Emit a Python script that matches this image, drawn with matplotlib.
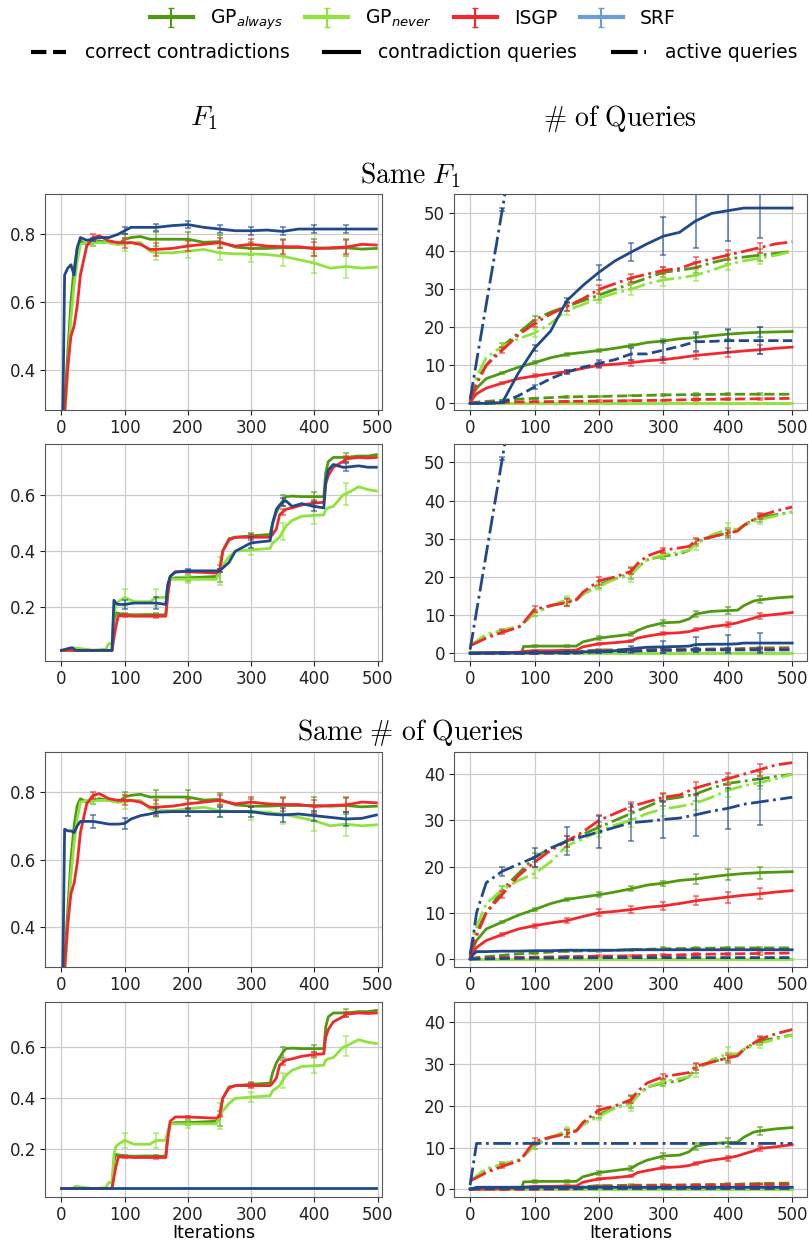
import matplotlib
matplotlib.use("Agg")
import matplotlib.pyplot as plt
from matplotlib.lines import Line2D
import numpy as np

# colours
c_gpa = "#4f9a10"
c_gpn = "#8ee43c"
c_isgp = "#f2282c"
c_srf = "#20498c"
c_srf_leg = "#6b9ed6"

# x positions of the error bars
err_x = [50, 100, 150, 200, 250, 300, 350, 400, 450]

# ---------- dataset A (rows 1 and 3), F1 ----------
xf_a = [0, 3, 5, 10, 15, 20, 25, 30, 40, 50, 60, 75, 90, 100, 110, 125, 140, 150,
        175, 200, 225, 250, 275, 300, 325, 350, 375, 400, 425, 450, 475, 498]
f1a_gpa = [0.05, 0.15, 0.30, 0.45, 0.60, 0.70, 0.76, 0.78, 0.77, 0.775, 0.78, 0.775,
           0.77, 0.785, 0.79, 0.793, 0.785, 0.785, 0.785, 0.785, 0.776, 0.778, 0.762,
           0.758, 0.758, 0.76, 0.76, 0.76, 0.758, 0.76, 0.756, 0.758]
f1a_gpn = [0.05, 0.12, 0.25, 0.40, 0.55, 0.65, 0.72, 0.77, 0.775, 0.775, 0.775, 0.775,
           0.77, 0.77, 0.775, 0.775, 0.75, 0.745, 0.745, 0.75, 0.755, 0.745, 0.742,
           0.742, 0.74, 0.735, 0.725, 0.715, 0.70, 0.705, 0.70, 0.703]
f1a_isgp = [0.05, 0.10, 0.28, 0.41, 0.50, 0.53, 0.59, 0.68, 0.765, 0.79, 0.795, 0.78,
            0.775, 0.775, 0.775, 0.77, 0.755, 0.755, 0.758, 0.765, 0.77, 0.775, 0.765,
            0.77, 0.765, 0.763, 0.763, 0.757, 0.76, 0.762, 0.77, 0.768]
f1_srf1 = [0.05, 0.38, 0.68, 0.70, 0.71, 0.68, 0.76, 0.79, 0.782, 0.785, 0.79, 0.79,
           0.80, 0.81, 0.82, 0.82, 0.82, 0.82, 0.825, 0.828, 0.82, 0.815, 0.81,
           0.81, 0.812, 0.808, 0.815, 0.815, 0.815, 0.815, 0.815, 0.815]
f1_srf3 = [0.05, 0.38, 0.69, 0.685, 0.685, 0.68, 0.70, 0.713, 0.713, 0.713, 0.71, 0.705,
           0.705, 0.707, 0.72, 0.73, 0.735, 0.74, 0.742, 0.742, 0.742, 0.742, 0.742,
           0.742, 0.735, 0.732, 0.735, 0.73, 0.725, 0.72, 0.722, 0.732]
e_f1a_gpa = [0.01, 0.015, 0.02, 0.02, 0.02, 0.02, 0.025, 0.025, 0.025]
e_f1a_gpn = [0.01, 0.02, 0.02, 0.02, 0.02, 0.025, 0.03, 0.03, 0.035]
e_f1a_isgp = [0.01, 0.015, 0.02, 0.015, 0.015, 0.015, 0.02, 0.02, 0.02]
e_f1_srf1 = [0.005, 0.01, 0.01, 0.01, 0.012, 0.012, 0.012, 0.012, 0.012]
e_f1_srf3 = [0.02, 0.017, 0.012, 0.012, 0.015, 0.015, 0.02, 0.015, 0.02]

# ---------- dataset B (rows 2 and 4), F1 ----------
xf_b = [0, 15, 18, 22, 50, 70, 75, 80, 83, 86, 90, 100, 115, 140, 150, 165, 168, 172,
        180, 200, 245, 250, 255, 265, 275, 300, 330, 334, 340, 345, 350, 355, 365, 380,
        400, 415, 418, 422, 430, 445, 450, 470, 485, 498]
f1b_gpa = [0.046, 0.046, 0.046, 0.046, 0.046, 0.046, 0.046, 0.046, 0.15, 0.18, 0.178,
           0.174, 0.173, 0.174, 0.173, 0.173, 0.25, 0.30, 0.305, 0.305, 0.31, 0.32, 0.40,
           0.445, 0.45, 0.455, 0.46, 0.50, 0.54, 0.56, 0.58, 0.595, 0.597, 0.595, 0.595,
           0.595, 0.68, 0.72, 0.735, 0.735, 0.735, 0.74, 0.74, 0.745]
f1b_gpn = [0.046, 0.046, 0.046, 0.055, 0.046, 0.05, 0.07, 0.07, 0.18, 0.21, 0.22,
           0.235, 0.22, 0.22, 0.235, 0.235, 0.27, 0.30, 0.30, 0.30, 0.30, 0.33, 0.35,
           0.38, 0.40, 0.405, 0.41, 0.43, 0.44, 0.45, 0.47, 0.49, 0.51, 0.525, 0.528,
           0.53, 0.55, 0.555, 0.56, 0.60, 0.605, 0.63, 0.62, 0.615]
f1b_isgp = [0.046, 0.046, 0.046, 0.046, 0.046, 0.046, 0.046, 0.046, 0.09, 0.13, 0.17,
            0.17, 0.168, 0.168, 0.168, 0.168, 0.24, 0.31, 0.327, 0.327, 0.322, 0.33, 0.40,
            0.44, 0.45, 0.45, 0.45, 0.46, 0.48, 0.53, 0.54, 0.55, 0.555, 0.565, 0.572,
            0.575, 0.64, 0.67, 0.70, 0.72, 0.73, 0.735, 0.733, 0.735]
f1_srf2 = [0.046, 0.055, 0.055, 0.046, 0.046, 0.046, 0.046, 0.046, 0.225, 0.215, 0.21,
           0.21, 0.215, 0.215, 0.215, 0.21, 0.28, 0.31, 0.325, 0.33, 0.33, 0.33, 0.34,
           0.36, 0.40, 0.43, 0.437, 0.50, 0.55, 0.565, 0.575, 0.58, 0.56, 0.57, 0.56,
           0.555, 0.65, 0.69, 0.71, 0.70, 0.70, 0.705, 0.70, 0.70]
x_srf4_f1 = [0, 498]
f1_srf4 = [0.047, 0.047]
e_f1b_gpa = [0.002, 0.005, 0.005, 0.01, 0.03, 0.01, 0.02, 0.015, 0.015]
e_f1b_gpn = [0.002, 0.03, 0.03, 0.015, 0.05, 0.02, 0.03, 0.03, 0.04]
e_f1b_isgp = [0.002, 0.005, 0.005, 0.005, 0.005, 0.01, 0.01, 0.01, 0.01]
e_f1_srf2 = [0.002, 0.015, 0.02, 0.005, 0.005, 0.02, 0.015, 0.015, 0.015]

# ---------- dataset A, queries ----------
xq_a = [0, 5, 10, 25, 50, 75, 100, 125, 150, 175, 200, 225, 250, 275, 300, 325, 350,
        375, 400, 425, 450, 475, 500]
act_a_gpa = [0.5, 4, 6, 10, 15, 18.5, 22, 24, 25.5, 27, 28.5, 30, 31.5, 33, 34.5, 35,
             35.7, 37, 38, 38.5, 39, 39.5, 40]
act_a_gpn = [0.5, 5, 7, 12, 15, 17, 18.5, 21, 24.5, 26, 27.7, 29, 30, 31.5, 32.5, 33,
             33.7, 35, 36.5, 37.5, 38.2, 39, 40]
act_a_isgp = [0.5, 3, 5, 10, 14, 18, 21, 23.5, 25.5, 27.5, 30, 31.5, 33, 34, 35, 35.5,
              37, 38, 39, 40, 41, 42, 42.5]
con_a_gpa = [0, 2.5, 4, 6.5, 8, 9.5, 10.7, 12, 12.9, 13.4, 13.9, 14.5, 15.2, 16, 16.4,
             17, 17.3, 17.8, 18.2, 18.5, 18.7, 18.8, 18.9]
con_a_isgp = [0, 1.5, 2.5, 4, 5.3, 6.5, 7.2, 7.8, 8.3, 9.2, 10, 10.3, 10.7, 11.2, 11.5,
              12, 12.6, 13, 13.4, 13.8, 14.1, 14.5, 14.8]
cor_a_gpa = [0, 0.2, 0.3, 0.5, 0.8, 1.1, 1.3, 1.5, 1.7, 1.75, 1.8, 1.9, 2.0, 2.1, 2.2,
             2.25, 2.3, 2.35, 2.4, 2.4, 2.4, 2.4, 2.4]
cor_a_isgp = [0, 0.05, 0.1, 0.2, 0.3, 0.35, 0.4, 0.45, 0.5, 0.55, 0.6, 0.65, 0.7, 0.75,
              0.8, 0.9, 1.0, 1.05, 1.1, 1.15, 1.2, 1.25, 1.3]
e_act_a_gpa = [0.8, 1.0, 1.2, 1.2, 1.3, 1.3, 1.4, 1.4, 1.5]
e_act_a_gpn = [0.8, 1.0, 1.2, 1.3, 1.4, 1.5, 1.5, 1.5, 1.5]
e_act_a_isgp = [0.8, 1.0, 1.2, 1.2, 1.0, 1.0, 1.4, 1.3, 1.3]
e_con_a_gpa = [0.3, 0.4, 0.4, 0.5, 0.5, 0.5, 1.0, 1.2, 1.3]
e_con_a_isgp = [0.3, 0.4, 0.6, 0.8, 0.8, 0.8, 1.0, 1.2, 1.2]
e_cor_a_gpa = [0.1, 0.2, 0.2, 0.2, 0.2, 0.3, 0.3, 0.3, 0.3]
e_cor_a_isgp = [0.1, 0.1, 0.1, 0.2, 0.2, 0.2, 0.3, 0.3, 0.3]

# GP_never never asks contradiction queries
xq_zero = [0, 500]
q_gpn_zero = [0, 0]

# SRF, same F1 (row 1) and same # of queries (row 3)
x_srf_lin = [0, 50, 100]
act_srf_lin = [1, 51, 101]
e_act_srf_lin = [0.3]
con_srf1 = [0, 0, 0, 0, 0.2, 8, 14.5, 19, 27, 31, 34.5, 37.5, 39.8, 42, 44, 45, 48, 50,
            50.7, 51.4, 51.4, 51.4, 51.4]
cor_srf1 = [0, 0, 0, 0, 0.2, 2, 4.3, 6.5, 8.2, 9.5, 10.5, 11.5, 13, 13, 14, 15, 16.2,
            16.3, 16.5, 16.5, 16.5, 16.5, 16.5]
e_con_srf1 = [0.2, 0.8, 0.6, 2.0, 2.4, 5.0, 7.0, 8.0, 8.0]
e_cor_srf1 = [0.1, 0.6, 0.6, 1.0, 1.5, 2.5, 2.5, 3.0, 3.5]
act_srf3 = [1, 5, 10, 16.5, 19, 20.5, 22, 24, 25.5, 26.5, 27.5, 28.5, 29.5, 29.8, 30.2,
            30.5, 31.2, 32, 32.6, 33.5, 34, 34.5, 35]
con_srf3 = [0, 1, 1.6, 1.6, 1.7, 1.7, 1.8, 1.8, 1.9, 1.9, 1.9, 1.9, 2.0, 2.0, 2.0, 2.0,
            2.0, 2.0, 2.0, 2.0, 2.0, 2.0, 2.0]
cor_srf3 = [0, 0, 0, 0.05, 0.1, 0.15, 0.2, 0.2, 0.25, 0.25, 0.3, 0.3, 0.3, 0.3, 0.3,
            0.3, 0.3, 0.3, 0.3, 0.3, 0.3, 0.3, 0.3]
e_act_srf3 = [1.0, 2.0, 3.0, 3.5, 4.0, 4.0, 4.5, 4.5, 5.0]

# ---------- dataset B, queries ----------
xq_b = [0, 25, 50, 75, 80, 83, 90, 100, 125, 150, 165, 175, 200, 225, 250, 260, 275,
        300, 325, 340, 350, 375, 400, 415, 425, 440, 450, 475, 500]
act_b_gpa = [2, 4.5, 6, 7, 7.4, 8, 9, 10.5, 12.5, 13.5, 14, 15.5, 18, 19.5, 21, 22.5,
             24.5, 25.5, 26, 27, 29, 30.5, 31.5, 32.2, 33.5, 35, 35.5, 36.3, 37]
act_b_gpn = [2, 5, 6, 7, 7.4, 8, 9, 10.5, 12.5, 14, 14.2, 15.5, 17.5, 19.5, 20.5, 22.5,
             24.5, 25.8, 26.5, 27, 28.5, 31, 32.5, 32.5, 33.5, 34.5, 35, 36, 37]
act_b_isgp = [2, 4, 5.5, 6.8, 7.3, 8, 9.5, 11.5, 12.5, 13.3, 14, 16, 19, 20, 21.5, 23.5,
              25.5, 27, 27.6, 28, 29.5, 30.5, 31.5, 32, 33.5, 35, 36, 37.3, 38.3]
con_b_gpa = [0.2, 0.2, 0.2, 0.2, 0.2, 1.8, 1.8, 1.9, 1.9, 1.9, 1.9, 3, 4, 4.5, 5, 6, 7,
             8, 8.2, 9, 10.3, 11, 11.2, 11.3, 12.5, 13.7, 14, 14.5, 14.8]
con_b_isgp = [0, 0.1, 0.2, 0.3, 0.4, 0.5, 0.6, 0.7, 0.7, 0.8, 0.8, 1.7, 2.5, 2.8, 3.2,
              4, 4.5, 5.2, 5.4, 5.7, 6.2, 7, 7.5, 8, 8.5, 9.2, 9.8, 10.2, 10.7]
cor_b_gpa = [0, 0, 0, 0, 0, 0, 0, 0, 0.05, 0.1, 0.1, 0.6, 0.9, 0.9, 1.0, 1.0, 1.0, 1.0,
             1.05, 1.1, 1.1, 1.15, 1.2, 1.2, 1.3, 1.35, 1.4, 1.45, 1.5]
cor_b_isgp = [0, 0, 0, 0, 0, 0, 0, 0, 0.05, 0.1, 0.1, 0.5, 0.7, 0.7, 0.8, 0.8, 0.85,
              0.9, 0.9, 0.95, 0.95, 1.0, 1.0, 1.05, 1.1, 1.1, 1.15, 1.15, 1.2]
e_act_b_gpa = [0.5, 0.8, 1.0, 1.0, 1.5, 0.8, 1.0, 1.2, 1.0]
e_act_b_gpn = [0.5, 0.8, 1.0, 1.0, 1.8, 0.8, 1.5, 1.5, 1.2]
e_act_b_isgp = [0.5, 0.8, 0.8, 1.0, 0.8, 0.6, 0.8, 0.8, 0.8]
e_con_b_gpa = [0.2, 0.3, 0.3, 0.5, 0.5, 0.8, 0.8, 1.0, 0.9]
e_con_b_isgp = [0.1, 0.2, 0.2, 0.3, 0.3, 0.3, 0.4, 0.6, 0.7]
e_cor_b_gpa = [0.1, 0.1, 0.1, 0.2, 0.2, 0.2, 0.2, 0.2, 0.2]
e_cor_b_isgp = [0.1, 0.1, 0.1, 0.2, 0.2, 0.2, 0.2, 0.2, 0.2]

con_srf2 = [0, 0.1, 0.1, 0.1, 0.1, 0.1, 0.15, 0.2, 0.2, 0.25, 0.3, 0.4, 0.5, 0.7, 1.2,
            1.4, 1.6, 1.7, 1.8, 1.9, 2.3, 2.4, 2.4, 2.5, 2.7, 2.7, 2.7, 2.7, 2.7]
cor_srf2 = [0, 0.05, 0.05, 0.05, 0.05, 0.05, 0.05, 0.1, 0.1, 0.1, 0.1, 0.2, 0.4, 0.45,
            0.5, 0.6, 0.7, 0.8, 0.8, 0.85, 0.85, 0.9, 0.9, 0.9, 0.9, 0.9, 0.9, 0.9, 0.9]
e_con_srf2 = [0.2, 0.3, 0.3, 0.5, 0.8, 1.5, 2.0, 2.3, 2.6]
e_cor_srf2 = [0.1, 0.1, 0.1, 0.3, 0.4, 0.6, 0.6, 0.6, 0.6]

x_srf4 = [0, 10, 500]
act_srf4 = [1, 11, 11]
con_srf4 = [0, 0.5, 0.5]
cor_srf4 = [0, 0.2, 0.2]


def draw(ax, x, y, color, ls="-", err=None):
    x = np.asarray(x, dtype=float)
    y = np.asarray(y, dtype=float)
    ax.plot(x, y, color=color, ls=ls, lw=2)
    if err is not None:
        sel = np.isin(x, err_x)
        ax.errorbar(x[sel], y[sel], yerr=err, fmt="none", ecolor=color, alpha=0.6,
                    capsize=2.5, elinewidth=1.3, capthick=1.3)


def style(ax, xlim, ylim, yticks):
    ax.set_xlim(*xlim)
    ax.set_ylim(*ylim)
    ax.set_xticks([0, 100, 200, 300, 400, 500])
    ax.set_yticks(yticks)
    ax.grid(True, color="#cccccc", lw=0.9)
    ax.set_axisbelow(True)
    ax.tick_params(labelsize=12, colors="#222222", pad=3)
    for s in ax.spines.values():
        s.set_color("#555555")


W, H = 809, 1244
fig = plt.figure(figsize=(W / 100, H / 100), dpi=100)

rows = [(194, 410), (444, 661), (752, 967), (1002, 1197)]
axL, axR = [], []
for top, bot in rows:
    axL.append(fig.add_axes([45 / W, 1 - bot / H, 337 / W, (bot - top) / H]))
    axR.append(fig.add_axes([454 / W, 1 - bot / H, 353 / W, (bot - top) / H]))

# ---- left column: F1 ----
for i, ax in enumerate(axL):
    if i in (0, 2):
        draw(ax, xf_a, f1a_gpa, c_gpa, err=e_f1a_gpa)
        draw(ax, xf_a, f1a_gpn, c_gpn, err=e_f1a_gpn)
        draw(ax, xf_a, f1a_isgp, c_isgp, err=e_f1a_isgp)
        if i == 0:
            draw(ax, xf_a, f1_srf1, c_srf, err=e_f1_srf1)
        else:
            draw(ax, xf_a, f1_srf3, c_srf, err=e_f1_srf3)
        style(ax, (-26, 507), (0.283, 0.918), [0.4, 0.6, 0.8])
    else:
        draw(ax, xf_b, f1b_gpa, c_gpa, err=e_f1b_gpa)
        draw(ax, xf_b, f1b_gpn, c_gpn, err=e_f1b_gpn)
        draw(ax, xf_b, f1b_isgp, c_isgp, err=e_f1b_isgp)
        if i == 1:
            draw(ax, xf_b, f1_srf2, c_srf, err=e_f1_srf2)
            style(ax, (-26, 507), (0.008, 0.783), [0.2, 0.4, 0.6])
        else:
            draw(ax, x_srf4_f1, f1_srf4, c_srf)
            style(ax, (-26, 507), (0.013, 0.778), [0.2, 0.4, 0.6])

# ---- right column: number of queries ----
for i, ax in enumerate(axR):
    if i in (0, 2):
        draw(ax, xq_a, cor_a_gpa, c_gpa, "--", e_cor_a_gpa)
        draw(ax, xq_a, con_a_gpa, c_gpa, "-", e_con_a_gpa)
        draw(ax, xq_a, act_a_gpa, c_gpa, "-.", e_act_a_gpa)
        draw(ax, xq_zero, q_gpn_zero, c_gpn, "--")
        draw(ax, xq_zero, q_gpn_zero, c_gpn, "-")
        draw(ax, xq_a, act_a_gpn, c_gpn, "-.", e_act_a_gpn)
        draw(ax, xq_a, cor_a_isgp, c_isgp, "--", e_cor_a_isgp)
        draw(ax, xq_a, con_a_isgp, c_isgp, "-", e_con_a_isgp)
        draw(ax, xq_a, act_a_isgp, c_isgp, "-.", e_act_a_isgp)
    else:
        draw(ax, xq_b, cor_b_gpa, c_gpa, "--", e_cor_b_gpa)
        draw(ax, xq_b, con_b_gpa, c_gpa, "-", e_con_b_gpa)
        draw(ax, xq_b, act_b_gpa, c_gpa, "-.", e_act_b_gpa)
        draw(ax, xq_zero, q_gpn_zero, c_gpn, "--")
        draw(ax, xq_zero, q_gpn_zero, c_gpn, "-")
        draw(ax, xq_b, act_b_gpn, c_gpn, "-.", e_act_b_gpn)
        draw(ax, xq_b, cor_b_isgp, c_isgp, "--", e_cor_b_isgp)
        draw(ax, xq_b, con_b_isgp, c_isgp, "-", e_con_b_isgp)
        draw(ax, xq_b, act_b_isgp, c_isgp, "-.", e_act_b_isgp)

    if i == 0:
        draw(ax, xq_a, cor_srf1, c_srf, "--", e_cor_srf1)
        draw(ax, xq_a, con_srf1, c_srf, "-", e_con_srf1)
        draw(ax, x_srf_lin, act_srf_lin, c_srf, "-.", e_act_srf_lin)
        style(ax, (-25, 523), (-1.76, 55.1), [0, 10, 20, 30, 40, 50])
    elif i == 1:
        draw(ax, xq_b, cor_srf2, c_srf, "--", e_cor_srf2)
        draw(ax, xq_b, con_srf2, c_srf, "-", e_con_srf2)
        draw(ax, x_srf_lin, act_srf_lin, c_srf, "-.", e_act_srf_lin)
        style(ax, (-25, 523), (-2.0, 54.8), [0, 10, 20, 30, 40, 50])
    elif i == 2:
        draw(ax, xq_a, cor_srf3, c_srf, "--")
        draw(ax, xq_a, con_srf3, c_srf, "-")
        draw(ax, xq_a, act_srf3, c_srf, "-.", e_act_srf3)
        style(ax, (-25, 523), (-1.73, 44.8), [0, 10, 20, 30, 40])
    else:
        draw(ax, x_srf4, cor_srf4, c_srf, "--")
        draw(ax, x_srf4, con_srf4, c_srf, "-")
        draw(ax, x_srf4, act_srf4, c_srf, "-.")
        style(ax, (-25, 523), (-1.84, 44.9), [0, 10, 20, 30, 40])

axL[3].set_xlabel("Iterations", fontsize=12.5, labelpad=0)
axR[3].set_xlabel("Iterations", fontsize=12.5, labelpad=0)

# ---- titles ----
fig.text(204 / W, 1 - 118 / H, r"$F_1$", fontsize=20, ha="center", va="center",
         math_fontfamily="cm")
fig.text(620 / W, 1 - 118 / H, r"$\#\ \mathrm{of\ Queries}$", fontsize=20,
         ha="center", va="center", math_fontfamily="cm")
fig.text(410 / W, 1 - 175 / H, r"$\mathrm{Same}\ F_1$", fontsize=20, ha="center",
         va="center", math_fontfamily="cm")
fig.text(410 / W, 1 - 732 / H, r"$\mathrm{Same}\ \#\ \mathrm{of\ Queries}$",
         fontsize=20, ha="center", va="center", math_fontfamily="cm")

# ---- legends ----
hid = fig.add_axes([0, 0, 0.001, 0.001])
hid.axis("off")
handles = []
for col, lab in [(c_gpa, r"GP$_{always}$"), (c_gpn, r"GP$_{never}$"),
                 (c_isgp, "ISGP"), (c_srf_leg, "SRF")]:
    h = hid.errorbar([np.nan], [np.nan], yerr=[np.nan], color=col, lw=3,
                     ecolor=col, elinewidth=1.5, capsize=2.5, label=lab)
    handles.append(h)
fig.legend(handles=handles, loc="center", bbox_to_anchor=(0.51, 1 - 20 / H),
           ncol=4, frameon=False, fontsize=13.5, handlelength=2.3,
           columnspacing=1.2, handletextpad=0.9)

style_handles = [Line2D([], [], color="black", lw=3, ls="--"),
                 Line2D([], [], color="black", lw=3, ls="-"),
                 Line2D([], [], color="black", lw=3, ls="-.")]
fig.legend(handles=style_handles,
           labels=["correct contradictions", "contradiction queries", "active queries"],
           loc="center", bbox_to_anchor=(0.512, 1 - 53 / H), ncol=3, frameon=False,
           fontsize=13.5, handlelength=1.9, columnspacing=1.8, handletextpad=1.0)

fig.savefig("out.png", dpi=100)
